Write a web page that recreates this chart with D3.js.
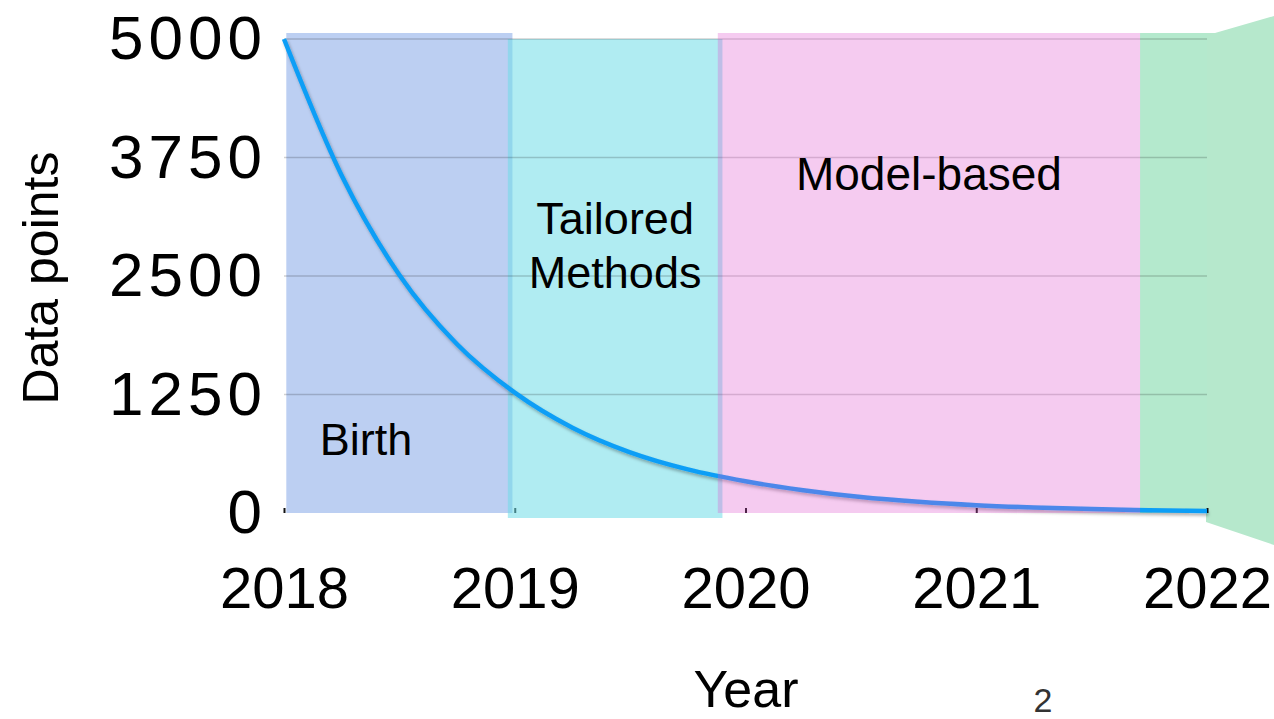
<!DOCTYPE html>
<html>
<head>
<meta charset="utf-8">
<script src="https://cdn.jsdelivr.net/npm/d3@7"></script>
<style>
    html, body { margin: 0; padding: 0; background: #fff; }
    svg { display: block; font-family: Helvetica, "Liberation Sans", Arial, sans-serif; }
    .tick text { fill: #000; }
</style>
</head>
<body>
<svg id="chart" width="1274" height="719"></svg>
<script>
'use strict';

/*
    data points per year, with the research eras shaded behind the curve
*/

var years = [2018, 2018.25, 2018.5, 2018.75, 2019, 2019.25, 2019.5, 2019.75,
    2020, 2020.25, 2020.5, 2020.75, 2021, 2021.25, 2021.5, 2021.75, 2022];
var dataPoints = [5000, 3560, 2510, 1780, 1270, 900, 640, 460,
    335, 240, 168, 118, 82, 58, 41, 29, 20];

var xTicks = [2018, 2019, 2020, 2021, 2022];
var yTicks = [0, 1250, 2500, 3750, 5000];

var eraNames = ['Birth', 'Tailored Methods', 'Model-based', ''];
var eraStart = [2018.01, 2018.97, 2019.88, 2021.71];
var eraEnd = [2018.99, 2019.90, 2021.71, 2022];

var svg = d3.select('#chart');

var x = d3.scaleLinear().domain([2018, 2022]).range([284, 1207]);
var y = d3.scaleLinear().domain([0, 5000]).range([513, 39]);

var defs = svg.append('defs');
defs.append('filter')
    .attr('id', 'shadow')
    .attr('x', '-5%').attr('y', '-5%')
    .attr('width', '110%').attr('height', '110%')
    .append('feDropShadow')
    .attr('dx', 1.5).attr('dy', 2.5)
    .attr('stdDeviation', 1.5)
    .attr('flood-color', '#000')
    .attr('flood-opacity', 0.3);

/* green slide edge on the right */
svg.append('polygon')
    .attr('points', [[1206, 33], [1215, 33], [1274, 16], [1274, 545], [1206, 522]].join(' '))
    .attr('fill', '#b6e8cc');

/* era backgrounds (pink goes on top later) */
var eraFill = ['#bccff2', 'rgb(111,221,231)', 'rgb(222,82,205)', '#b4e9cd'];
var eraOpacity = [1, 0.55, 0.3, 1];
var eraTop = [33, 39, 33, 33];
var eraBottom = [513, 518, 513, 513];

function drawEra(i) {
    svg.append('rect')
        .attr('x', x(eraStart[i]))
        .attr('y', eraTop[i])
        .attr('width', x(eraEnd[i]) - x(eraStart[i]))
        .attr('height', eraBottom[i] - eraTop[i])
        .attr('fill', eraFill[i])
        .attr('fill-opacity', eraOpacity[i]);
}

drawEra(0);
drawEra(3);

/* x axis */
var xAxis = d3.axisBottom(x)
    .tickValues(xTicks)
    .tickFormat(d3.format('d'))
    .tickSizeInner(-5)
    .tickSizeOuter(0)
    .tickPadding(54);

var gx = svg.append('g')
    .attr('transform', 'translate(0,513)')
    .call(xAxis);
gx.select('.domain')
    .attr('stroke', '#111')
    .attr('stroke-width', 2.5)
    .attr('filter', 'url(#shadow)');
gx.selectAll('.tick line').attr('stroke', '#111').attr('stroke-width', 2);
gx.selectAll('.tick text').attr('font-size', 58);

drawEra(1);

/* grid lines */
svg.append('g')
    .selectAll('line')
    .data(yTicks.filter(function(d) { return d > 0; }))
    .enter()
    .append('line')
    .attr('x1', 284)
    .attr('x2', 1207)
    .attr('y1', function(d) { return y(d); })
    .attr('y2', function(d) { return y(d); })
    .attr('stroke', '#000')
    .attr('stroke-opacity', 0.18)
    .attr('stroke-width', 1.5);

/* y axis */
var yAxis = d3.axisLeft(y)
    .tickValues(yTicks)
    .tickFormat(d3.format('d'))
    .tickSize(0)
    .tickPadding(17);

var gy = svg.append('g')
    .attr('transform', 'translate(284,0)')
    .call(yAxis);
gy.select('.domain').remove();
gy.selectAll('.tick text')
    .attr('font-size', 62)
    .attr('letter-spacing', 5);

/* the curve */
var line = d3.line()
    .x(function(d, i) { return x(years[i]); })
    .y(function(d) { return y(d); })
    .curve(d3.curveMonotoneX);

svg.append('path')
    .datum(dataPoints)
    .attr('d', line)
    .attr('fill', 'none')
    .attr('stroke', '#0d9ef6')
    .attr('stroke-width', 4.5)
    .attr('filter', 'url(#shadow)');

drawEra(2);

/* era labels */
svg.append('text')
    .attr('x', 366)
    .attr('y', 455)
    .attr('text-anchor', 'middle')
    .attr('font-size', 45)
    .text(eraNames[0]);

var tailored = svg.append('text')
    .attr('text-anchor', 'middle')
    .attr('font-size', 45);
eraNames[1].split(' ').forEach(function(word, i) {
    tailored.append('tspan')
        .attr('x', (x(eraStart[1]) + x(eraEnd[1])) / 2)
        .attr('y', 234 + i * 54)
        .text(word);
});

svg.append('text')
    .attr('x', (x(eraStart[2]) + x(eraEnd[2])) / 2)
    .attr('y', 190)
    .attr('text-anchor', 'middle')
    .attr('font-size', 46)
    .text(eraNames[2]);

/* axis titles */
svg.append('text')
    .attr('transform', 'translate(58,278) rotate(-90)')
    .attr('text-anchor', 'middle')
    .attr('font-size', 50)
    .text('Data points');

svg.append('text')
    .attr('x', 746)
    .attr('y', 707)
    .attr('text-anchor', 'middle')
    .attr('font-size', 52)
    .text('Year');

/* slide number */
svg.append('text')
    .attr('x', 1043)
    .attr('y', 712)
    .attr('text-anchor', 'middle')
    .attr('font-size', 34)
    .attr('fill', '#333')
    .text('2');
</script>
</body>
</html>
